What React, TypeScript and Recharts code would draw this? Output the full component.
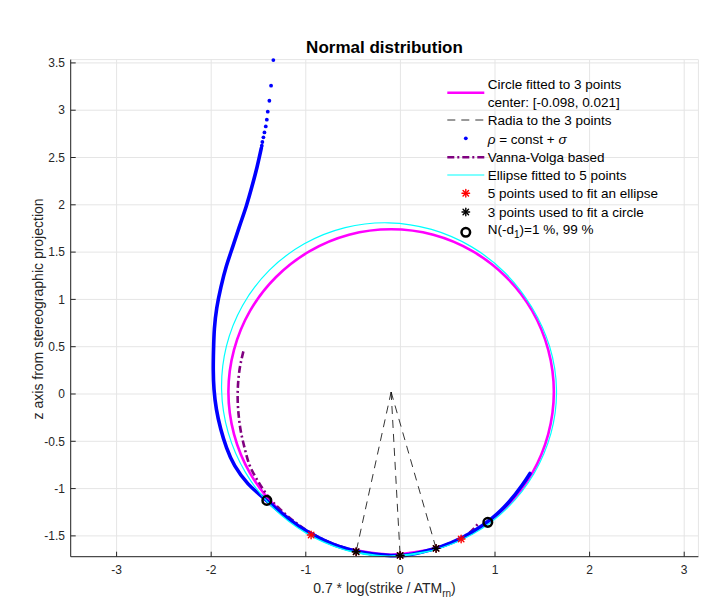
import React from 'react';
import {
  ComposedChart, Line, Scatter, XAxis, YAxis, CartesianGrid, ReferenceLine,
} from 'recharts';

type Pt = { x: number; y: number };

const FONT = '"Liberation Sans", Arial, Helvetica, sans-serif';
const AXIS = '#262626';

const xTicks = [-3, -2, -1, 0, 1, 2, 3];
const yTicks = [-1.5, -1, -0.5, 0, 0.5, 1, 1.5, 2, 2.5, 3, 3.5];

const circleCenter: Pt = { x: -0.098, y: 0.021 };

// magenta circle, read every ~15 deg, starting and ending under the blue band at the bottom
const circlePts: Pt[] = [
  { x: -0.543, y: -1.640 }, { x: -0.098, y: -1.699 }, { x: 0.347, y: -1.640 }, { x: 0.762, y: -1.469 },
  { x: 1.118, y: -1.195 }, { x: 1.392, y: -0.839 }, { x: 1.563, y: -0.424 }, { x: 1.622, y: 0.021 },
  { x: 1.563, y: 0.466 }, { x: 1.392, y: 0.881 }, { x: 1.118, y: 1.237 }, { x: 0.762, y: 1.510 },
  { x: 0.347, y: 1.683 }, { x: -0.098, y: 1.741 }, { x: -0.543, y: 1.683 }, { x: -0.958, y: 1.510 },
  { x: -1.314, y: 1.237 }, { x: -1.588, y: 0.881 }, { x: -1.759, y: 0.466 }, { x: -1.818, y: 0.021 },
  { x: -1.759, y: -0.424 }, { x: -1.588, y: -0.839 }, { x: -1.314, y: -1.195 }, { x: -0.958, y: -1.469 },
  { x: -0.543, y: -1.640 }, { x: -0.098, y: -1.699 }, { x: 0.347, y: -1.640 },
];

// cyan ellipse through 5 points, same route round
const ellipsePts: Pt[] = [
  { x: -0.579, y: -1.650 }, { x: -0.125, y: -1.713 }, { x: 0.334, y: -1.655 }, { x: 0.766, y: -1.480 },
  { x: 1.130, y: -1.205 }, { x: 1.410, y: -0.845 }, { x: 1.592, y: -0.414 }, { x: 1.650, y: 0.045 },
  { x: 1.578, y: 0.500 }, { x: 1.388, y: 0.919 }, { x: 1.109, y: 1.279 }, { x: 0.749, y: 1.558 },
  { x: 0.329, y: 1.740 }, { x: -0.125, y: 1.810 }, { x: -0.584, y: 1.759 }, { x: -1.016, y: 1.588 },
  { x: -1.387, y: 1.307 }, { x: -1.668, y: 0.936 }, { x: -1.839, y: 0.505 }, { x: -1.890, y: 0.045 },
  { x: -1.820, y: -0.409 }, { x: -1.638, y: -0.829 }, { x: -1.359, y: -1.189 }, { x: -0.999, y: -1.468 },
  { x: -0.579, y: -1.650 }, { x: -0.125, y: -1.713 }, { x: 0.334, y: -1.655 },
];

// rho = const + sigma : sparse dots at the top, then a dense run drawn as a band
const rhoSparse: Pt[] = [
  { x: -1.343, y: 3.53 }, { x: -1.367, y: 3.259 }, { x: -1.385, y: 3.100 }, { x: -1.402, y: 2.984 },
  { x: -1.412, y: 2.900 }, { x: -1.423, y: 2.829 }, { x: -1.437, y: 2.765 }, { x: -1.448, y: 2.713 },
  { x: -1.459, y: 2.664 }, { x: -1.465, y: 2.625 },
];
const rhoDense: Pt[] = [
  { x: -1.470, y: 2.60 }, { x: -1.515, y: 2.40 }, { x: -1.570, y: 2.19 }, { x: -1.631, y: 1.98 },
  { x: -1.702, y: 1.77 }, { x: -1.771, y: 1.56 }, { x: -1.840, y: 1.35 }, { x: -1.897, y: 1.13 },
  { x: -1.941, y: 0.91 }, { x: -1.966, y: 0.69 }, { x: -1.975, y: 0.47 }, { x: -1.978, y: 0.26 },
  { x: -1.970, y: 0.05 }, { x: -1.945, y: -0.16 }, { x: -1.899, y: -0.37 }, { x: -1.837, y: -0.57 },
  { x: -1.750, y: -0.76 }, { x: -1.610, y: -0.95 }, { x: -1.450, y: -1.095 }, { x: -1.270, y: -1.25 },
  { x: -1.070, y: -1.40 }, { x: -0.860, y: -1.52 }, { x: -0.640, y: -1.615 }, { x: -0.410, y: -1.672 },
  { x: -0.170, y: -1.703 }, { x: 0.070, y: -1.703 }, { x: 0.310, y: -1.65 }, { x: 0.540, y: -1.572 },
  { x: 0.760, y: -1.46 }, { x: 0.960, y: -1.32 }, { x: 1.140, y: -1.15 }, { x: 1.290, y: -0.96 },
  { x: 1.370, y: -0.84 },
];

// Vanna-Volga based
const vvPts: Pt[] = [
  { x: -1.66, y: 0.45 }, { x: -1.695, y: 0.29 }, { x: -1.715, y: 0.12 }, { x: -1.72, y: -0.06 },
  { x: -1.708, y: -0.24 }, { x: -1.684, y: -0.41 }, { x: -1.642, y: -0.59 }, { x: -1.589, y: -0.765 },
  { x: -1.50, y: -0.93 }, { x: -1.40, y: -1.08 }, { x: -1.27, y: -1.22 }, { x: -1.12, y: -1.35 },
  { x: -0.96, y: -1.46 }, { x: -0.76, y: -1.565 }, { x: -0.55, y: -1.64 }, { x: -0.33, y: -1.69 },
  { x: -0.10, y: -1.705 }, { x: 0.12, y: -1.69 }, { x: 0.34, y: -1.645 }, { x: 0.55, y: -1.565 },
  { x: 0.72, y: -1.475 }, { x: 0.83, y: -1.36 },
];

const circleFitPts: Pt[] = [
  { x: -0.468, y: -1.667 }, { x: -0.003, y: -1.706 }, { x: 0.377, y: -1.632 },
];
const ellipseFitPts: Pt[] = [
  { x: -0.944, y: -1.491 }, { x: -0.468, y: -1.667 }, { x: -0.003, y: -1.706 },
  { x: 0.377, y: -1.632 }, { x: 0.642, y: -1.533 },
];
const nd1Pts: Pt[] = [
  { x: -1.412, y: -1.125 }, { x: 0.924, y: -1.357 },
];

function Asterisk({ cx, cy, color }: { cx: number; cy: number; color: string }) {
  const r = 3.8;
  const d = r * 0.72;
  return (
    <g stroke={color} strokeWidth={1.4} strokeLinecap="round">
      <line x1={cx - r} y1={cy} x2={cx + r} y2={cy} />
      <line x1={cx} y1={cy - r} x2={cx} y2={cy + r} />
      <line x1={cx - d} y1={cy - d} x2={cx + d} y2={cy + d} />
      <line x1={cx - d} y1={cy + d} x2={cx + d} y2={cy - d} />
    </g>
  );
}

function Overlay() {
  const x0 = 439.3, x1 = 476.3, mx = 457.8, tx = 479.7;
  const centerText = `center: [${circleCenter.x.toFixed(3)}, ${circleCenter.y.toFixed(3)}]`;
  return (
    <svg width={700} height={600} style={{ position: 'absolute', left: 0, top: 0, pointerEvents: 'none' }}>
      <text x={376.5} y={44.7} textAnchor="middle" fontFamily={FONT} fontSize={17} fontWeight="bold" fill="#000">
        Normal distribution
      </text>
      <text x={376.5} y={584.7} textAnchor="middle" fontFamily={FONT} fontSize={14} fill={AXIS}>
        0.7 * log(strike / ATM<tspan fontSize={10} dy={4}>rn</tspan><tspan dy={-4}>)</tspan>
      </text>
      <text transform="translate(35,300.9) rotate(-90)" textAnchor="middle" fontFamily={FONT} fontSize={14} fill={AXIS}>
        z axis from stereographic projection
      </text>

      <g fontFamily={FONT} fontSize={13.5} fill="#000">
        <line x1={x0} x2={x1} y1={84.7} y2={84.7} stroke="#ff00ff" strokeWidth={2.5} />
        <text x={tx} y={81.1}>Circle fitted to 3 points</text>
        <text x={tx} y={99.1}>{centerText}</text>

        <line x1={x0} x2={x1} y1={112} y2={112} stroke="#000" strokeWidth={0.8} strokeDasharray="8 6" />
        <text x={tx} y={116.8}>Radia to the 3 points</text>

        <circle cx={mx} cy={130.3} r={1.9} fill="#0000ff" />
        <text x={tx} y={136.3}>
          <tspan fontStyle="italic">ρ</tspan> = const + <tspan fontStyle="italic">σ</tspan>
        </text>

        <line x1={x0} x2={x1} y1={149.3} y2={149.3} stroke="#800080" strokeWidth={2.5} strokeDasharray="7 3 2 3" />
        <text x={tx} y={154.1}>Vanna-Volga based</text>

        <line x1={x0} x2={x1} y1={167} y2={167} stroke="#00ffff" strokeWidth={1.2} />
        <text x={tx} y={171.8}>Ellipse fitted to 5 points</text>

        <Asterisk cx={mx} cy={185.3} color="#ff0000" />
        <text x={tx} y={190.1}>5 points used to fit an ellipse</text>

        <Asterisk cx={mx} cy={204} color="#000" />
        <text x={tx} y={208.8}>3 points used to fit a circle</text>

        <circle cx={mx} cy={224.3} r={4.3} fill="none" stroke="#000" strokeWidth={2.5} />
        <text x={tx} y={226.3}>
          N(-d<tspan fontSize={10} dy={4}>1</tspan><tspan dy={-4}>)=1 %, 99 %</tspan>
        </text>
      </g>
    </svg>
  );
}

export default function App() {
  const tickStyle = { fill: AXIS, fontSize: 12, fontFamily: FONT };
  return (
    <div style={{ position: 'relative', width: 700, height: 600 }}>
      <ComposedChart width={700} height={600} margin={{ top: 51.6, right: 9.6, bottom: 11.3, left: 7.7 }}>
        <CartesianGrid stroke="#e5e5e5" strokeWidth={1} />
        <XAxis
          type="number" dataKey="x" domain={[-3.485, 3.15]} ticks={xTicks} interval={0}
          height={40} tickSize={-5} tickMargin={14} stroke={AXIS} tick={tickStyle}
        />
        <YAxis
          type="number" dataKey="y" domain={[-1.72, 3.535]} ticks={yTicks} interval={0}
          width={55} tickSize={-5} tickMargin={10.7} stroke={AXIS} tick={tickStyle}
        />

        <Line data={circlePts} dataKey="y" type="natural" stroke="#ff00ff" strokeWidth={2.6}
          dot={false} activeDot={false} isAnimationActive={false} />

        {circleFitPts.map((p, i) => (
          <ReferenceLine key={i} segment={[circleCenter, p]} stroke="#000" strokeWidth={0.8}
            strokeDasharray="8 6" />
        ))}

        <Line data={vvPts} dataKey="y" type="natural" stroke="#800080" strokeWidth={2.6}
          strokeDasharray="7 3 2 3" dot={false} activeDot={false} isAnimationActive={false} />

        <Line data={rhoDense} dataKey="y" type="natural" stroke="#0000ff" strokeWidth={3.6}
          strokeLinecap="round" dot={false} activeDot={false} isAnimationActive={false} />
        <Scatter data={rhoSparse} fill="#0000ff" isAnimationActive={false}
          shape={(p: any) => <circle cx={p.cx} cy={p.cy} r={1.9} fill="#0000ff" />} />

        <Line data={ellipsePts} dataKey="y" type="natural" stroke="#00ffff" strokeWidth={1.2}
          dot={false} activeDot={false} isAnimationActive={false} />

        <Scatter data={ellipseFitPts} isAnimationActive={false}
          shape={(p: any) => <Asterisk cx={p.cx} cy={p.cy} color="#ff0000" />} />
        <Scatter data={circleFitPts} isAnimationActive={false}
          shape={(p: any) => <Asterisk cx={p.cx} cy={p.cy} color="#000" />} />
        <Scatter data={nd1Pts} isAnimationActive={false}
          shape={(p: any) => <circle cx={p.cx} cy={p.cy} r={4.3} fill="none" stroke="#000" strokeWidth={2.5} />} />
      </ComposedChart>
      <Overlay />
    </div>
  );
}
